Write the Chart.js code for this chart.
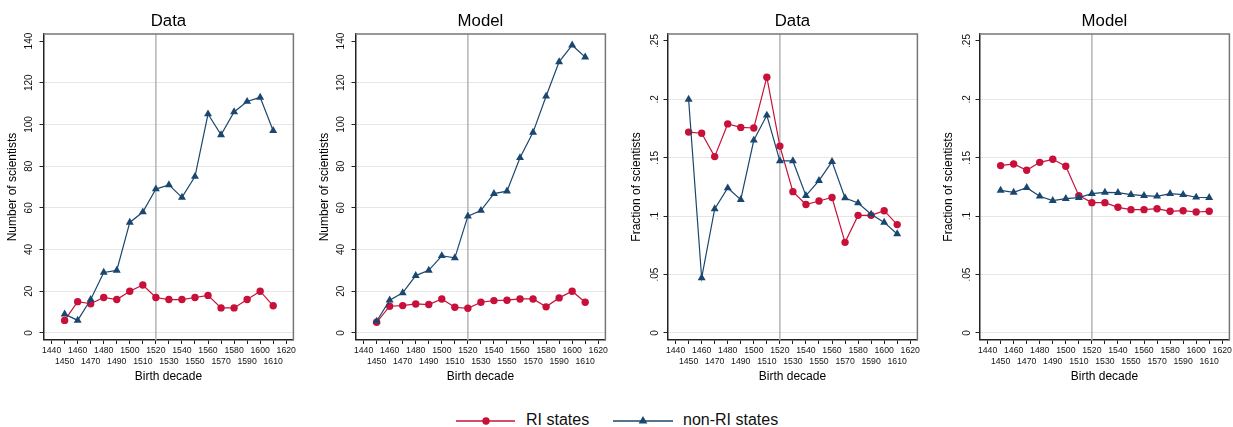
<!DOCTYPE html>
<html>
<head>
<meta charset="utf-8">
<title>Scientists by birth decade</title>
<script src="https://cdn.jsdelivr.net/npm/chart.js"></script>
<style>
  body { margin: 0; background: #fff; width: 1233px; height: 427px; overflow: hidden; position: relative; font-family: "Liberation Sans", Arial, sans-serif; }
  canvas { position: absolute; top: 0; }
  .leg { position: absolute; }
  .legtxt { position: absolute; top: 412px; font-size: 16px; line-height: 16px; color: #111; white-space: nowrap; }
</style>
</head>
<body>
<canvas id="wykres1" width="298" height="395" style="left:0px"></canvas>
<canvas id="wykres2" width="298" height="395" style="left:312px"></canvas>
<canvas id="wykres3" width="298" height="395" style="left:624px"></canvas>
<canvas id="wykres4" width="298" height="395" style="left:936px"></canvas>

<!-- legenda -->
<svg class="leg" style="left:455px;top:413.7px" width="62" height="14">
  <line x1="1" y1="7" x2="60" y2="7" stroke="rgb(200,16,58)" stroke-width="1.3"/>
  <circle cx="31" cy="7" r="3.7" fill="rgb(200,16,58)"/>
</svg>
<div class="legtxt" style="left:526px">RI states</div>
<svg class="leg" style="left:612px;top:413.7px" width="64" height="14">
  <line x1="1" y1="7" x2="61" y2="7" stroke="rgb(26,71,111)" stroke-width="1.3"/>
  <polygon points="31,2 26.6,9.5 35.4,9.5" fill="rgb(26,71,111)"/>
</svg>
<div class="legtxt" style="left:683px">non-RI states</div>

<script>
// dane
var decades = [1450, 1460, 1470, 1480, 1490, 1500, 1510, 1520, 1530, 1540, 1550, 1560, 1570, 1580, 1590, 1600, 1610];
var xTicks = [1440, 1450, 1460, 1470, 1480, 1490, 1500, 1510, 1520, 1530, 1540, 1550, 1560, 1570, 1580, 1590, 1600, 1610, 1620];
var countTicks = [0, 20, 40, 60, 80, 100, 120, 140];
var countTickLabels = ['0', '20', '40', '60', '80', '100', '120', '140'];
var fracTicks = [0, 0.05, 0.1, 0.15, 0.2, 0.25];
var fracTickLabels = ['0', '.05', '.1', '.15', '.2', '.25'];
var xLine = 1520;

var dataCountRI    = [6, 15, 14, 17, 16, 20, 23, 17, 16, 16, 17, 18, 12, 12, 16, 20, 13];
var dataCountNonRI = [9, 6, 16, 29, 30, 53, 58, 69, 71, 65, 75, 105, 95, 106, 111, 113, 97];
var modelCountRI    = [5.1, 12.8, 13.1, 13.9, 13.6, 16.3, 12.3, 11.8, 14.7, 15.5, 15.7, 16.3, 16.3, 12.5, 16.8, 20, 14.7];
var modelCountNonRI = [5.6, 15.7, 19.2, 27.5, 30, 37, 36, 56, 58.7, 66.8, 68, 84, 96.2, 113.5, 130, 138, 132.3];
var dataFracRI    = [0.172, 0.171, 0.151, 0.179, 0.176, 0.1755, 0.219, 0.160, 0.121, 0.110, 0.113, 0.116, 0.0776, 0.1007, 0.1007, 0.1047, 0.0928];
var dataFracNonRI = [0.200, 0.0471, 0.1062, 0.1241, 0.1142, 0.165, 0.1864, 0.1473, 0.1473, 0.1176, 0.1304, 0.1467, 0.1156, 0.1113, 0.1016, 0.0947, 0.0848];
var modelFracRI    = [0.1433, 0.1447, 0.1393, 0.1461, 0.1487, 0.1427, 0.1176, 0.1116, 0.1116, 0.1076, 0.1056, 0.1056, 0.1064, 0.1042, 0.1047, 0.1036, 0.1042];
var modelFracNonRI = [0.1221, 0.1204, 0.1244, 0.117, 0.1133, 0.115, 0.1159, 0.1193, 0.1204, 0.1202, 0.1184, 0.1176, 0.117, 0.1193, 0.1184, 0.1162, 0.1159];

var RED = 'rgb(200,16,58)';
var NAVY = 'rgb(26,71,111)';
var FONT = '"Liberation Sans", Arial, sans-serif';

Chart.defaults.font.family = FONT;
Chart.defaults.color = '#111';

function pary(vals) {
  var out = [];
  for (var i = 0; i < decades.length; i++) {
    out.push({ x: decades[i], y: vals[i] });
  }
  return out;
}

// gorna i prawa krawedz ramki
var ramka = {
  id: 'ramka',
  afterDatasetsDraw: function (chart) {
    var a = chart.chartArea;
    var ctx = chart.ctx;
    ctx.save();
    ctx.strokeStyle = '#777';
    ctx.lineWidth = 1.5;
    ctx.beginPath();
    ctx.moveTo(a.left, a.top);
    ctx.lineTo(a.right, a.top);
    ctx.lineTo(a.right, a.bottom);
    ctx.stroke();
    ctx.restore();
  }
};

function panel(id, tytul, yTytul, ri, nonRi, yTicks, yLabels, yMin, yMax) {
  var topTick = yTicks[yTicks.length - 1];
  new Chart(document.getElementById(id), {
    type: 'line',
    data: {
      datasets: [{
        label: 'non-RI states',
        data: pary(nonRi),
        borderColor: NAVY,
        backgroundColor: NAVY,
        borderWidth: 1.2,
        pointStyle: 'triangle',
        pointRadius: 4.6,
        pointBorderWidth: 0,
        fill: false
      }, {
        label: 'RI states',
        data: pary(ri),
        borderColor: RED,
        backgroundColor: RED,
        borderWidth: 1.2,
        pointStyle: 'circle',
        pointRadius: 3.7,
        pointBorderWidth: 0,
        fill: false
      }, {
        label: 'xline',
        data: [{ x: xLine, y: yMin }, { x: xLine, y: yMax }],
        borderColor: '#b5b5b5',
        borderWidth: 1.5,
        pointRadius: 0,
        fill: false
      }]
    },
    options: {
      responsive: false,
      animation: false,
      layout: { padding: { left: 0, right: 3.5, top: 0, bottom: 0 } },
      plugins: {
        legend: { display: false },
        tooltip: { enabled: false },
        title: {
          display: true,
          text: tytul,
          fullSize: false,
          color: '#000',
          font: { size: 16.8, weight: 'normal', lineHeight: 1.2 },
          padding: { top: 11, bottom: 2.8 }
        }
      },
      scales: {
        x: {
          type: 'linear',
          min: 1433.8,
          max: 1625.5,
          afterFit: function (s) { s.height = 55; },
          afterBuildTicks: function (s) {
            s.ticks = xTicks.map(function (v) { return { value: v }; });
          },
          ticks: {
            autoSkip: false,
            maxRotation: 0,
            minRotation: 0,
            padding: 1.6,
            color: '#111',
            font: { size: 8.7, lineHeight: 1.23 },
            callback: function (v, i) {
              return i % 2 === 0 ? [String(v), ''] : ['', String(v)];
            }
          },
          grid: { drawOnChartArea: false, tickLength: 4, tickColor: '#222', tickWidth: 1 },
          border: { color: '#222', width: 1.5 },
          title: {
            display: true,
            text: 'Birth decade',
            color: '#000',
            font: { size: 12 },
            padding: { top: 0, bottom: 11 }
          }
        },
        y: {
          type: 'linear',
          min: yMin,
          max: yMax,
          afterFit: function (s) { s.width = 43.5; },
          afterBuildTicks: function (s) {
            s.ticks = yTicks.map(function (v) { return { value: v }; });
          },
          ticks: {
            autoSkip: false,
            minRotation: 90,
            maxRotation: 90,
            crossAlign: 'center',
            padding: 1.5,
            color: '#111',
            font: { size: 10 },
            callback: function (v, i) { return yLabels[i]; }
          },
          grid: {
            color: function (c) {
              return (c.tick && c.tick.value === topTick) ? 'rgba(0,0,0,0)' : '#e6e6e6';
            },
            lineWidth: 1,
            tickLength: 4,
            tickColor: '#222',
            tickWidth: 1
          },
          border: { color: '#222', width: 1.5 },
          title: {
            display: true,
            text: yTytul,
            color: '#000',
            font: { size: 12 },
            padding: { top: 5.3, bottom: 0 }
          }
        }
      }
    },
    plugins: [ramka]
  });
}

panel('wykres1', 'Data', 'Number of scientists', dataCountRI, dataCountNonRI, countTicks, countTickLabels, -3.4, 143.4);
panel('wykres2', 'Model', 'Number of scientists', modelCountRI, modelCountNonRI, countTicks, countTickLabels, -3.4, 143.4);
panel('wykres3', 'Data', 'Fraction of scientists', dataFracRI, dataFracNonRI, fracTicks, fracTickLabels, -0.006, 0.256);
panel('wykres4', 'Model', 'Fraction of scientists', modelFracRI, modelFracNonRI, fracTicks, fracTickLabels, -0.006, 0.256);
</script>
</body>
</html>
